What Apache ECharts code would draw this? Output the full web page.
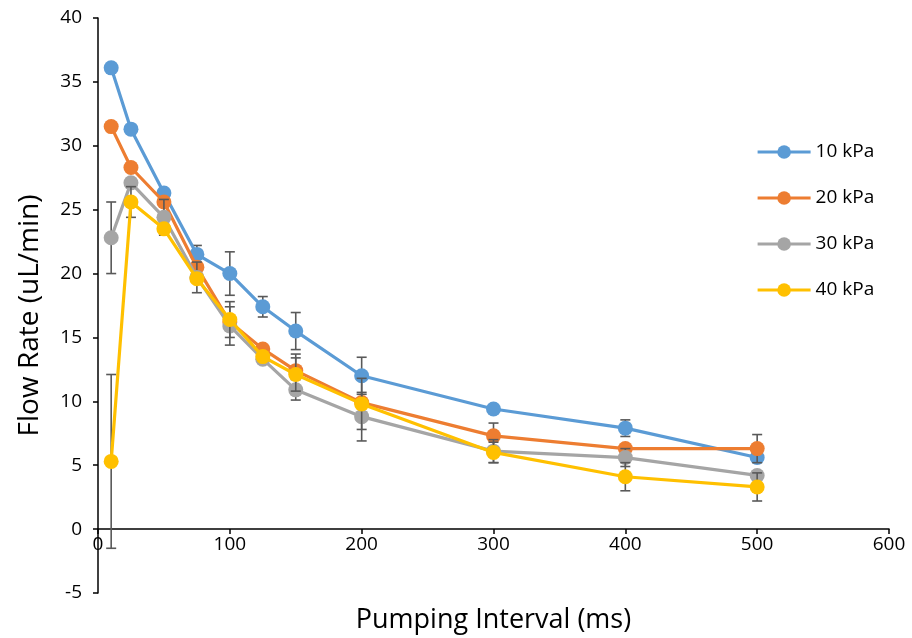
<!DOCTYPE html>
<html>
<head>
<meta charset="utf-8">
<script src="https://cdn.jsdelivr.net/npm/echarts@6/dist/echarts.min.js"></script>
<style>html,body{margin:0;padding:0;background:#fff}#c{width:912px;height:638px}</style>
</head>
<body>
<div id="c"></div>
<script>
const intervals = [10, 25, 50, 75, 100, 125, 150, 200, 300, 400, 500];
const seriesNames = ['10 kPa', '20 kPa', '30 kPa', '40 kPa'];
const flow10 = [36.1, 31.3, 26.3, 21.5, 20.0, 17.4, 15.5, 12.0, 9.4, 7.9, 5.6];
const flow20 = [31.5, 28.3, 25.6, 20.5, 16.2, 14.1, 12.4, 9.9, 7.3, 6.3, 6.3];
const flow30 = [22.8, 27.1, 24.4, 19.7, 15.9, 13.3, 10.9, 8.8, 6.1, 5.6, 4.2];
const flow40 = [5.3, 25.6, 23.5, 19.6, 16.4, 13.5, 12.1, 9.8, 6.0, 4.1, 3.3];
const err10 = [0, 0, 0, 0.7, 1.7, 0.8, 1.45, 1.45, 0, 0.65, 0];
const err20 = [0, 0, 0, 0, 0, 0, 1.3, 0, 1.0, 0, 1.1];
const err30 = [2.8, 0, 1.4, 1.2, 1.5, 0, 0.8, 1.9, 0.9, 0.7, 0];
const err40 = [6.8, 1.2, 0, 0, 1.4, 0, 1.3, 2.0, 0.8, 1.1, 1.1];
const xTicks = [0, 100, 200, 300, 400, 500, 600];
const yTicks = [-5, 0, 5, 10, 15, 20, 25, 30, 35, 40];

const colors = ['#5B9BD5', '#ED7D31', '#A5A5A5', '#FFC000'];
const values = [flow10, flow20, flow30, flow40];
const errs = [err10, err20, err30, err40];
const FONT = 'Open Sans';

const series = [];
values.forEach((vals, i) => {
  const errData = [];
  intervals.forEach((x, k) => {
    if (errs[i][k] > 0) errData.push([x, vals[k] - errs[i][k], vals[k] + errs[i][k]]);
  });
  series.push({
    type: 'custom',
    name: seriesNames[i] + ' err',
    z: 2 + i * 2,
    silent: true,
    renderItem: function (params, api) {
      const x = api.value(0);
      const lo = api.coord([x, api.value(1)]);
      const hi = api.coord([x, api.value(2)]);
      const w = 5;
      const st = { stroke: '#595959', lineWidth: 1.6 };
      return {
        type: 'group',
        children: [
          { type: 'line', shape: { x1: lo[0], y1: lo[1], x2: hi[0], y2: hi[1] }, style: st },
          { type: 'line', shape: { x1: lo[0] - w, y1: lo[1], x2: lo[0] + w, y2: lo[1] }, style: st },
          { type: 'line', shape: { x1: hi[0] - w, y1: hi[1], x2: hi[0] + w, y2: hi[1] }, style: st }
        ]
      };
    },
    encode: { x: 0, y: [1, 2] },
    data: errData
  });
  series.push({
    type: 'line',
    name: seriesNames[i],
    z: 3 + i * 2,
    data: intervals.map((x, k) => [x, vals[k]]),
    symbol: 'circle',
    symbolSize: 15,
    lineStyle: { width: 3.2, color: colors[i] },
    itemStyle: { color: colors[i] },
    emphasis: { disabled: true },
    animation: false
  });
});

const chart = echarts.init(document.getElementById('c'));
chart.setOption({
  animation: false,
  backgroundColor: '#fff',
  grid: { left: 98, right: 23, top: 18, bottom: 45, containLabel: false, outerBoundsMode: 'none' },
  legend: {
    data: seriesNames,
    orient: 'vertical',
    left: 751,
    top: 136,
    itemWidth: 53,
    itemHeight: 17,
    itemGap: 24,
    lineStyle: { width: 3.2 },
    textStyle: { fontFamily: FONT, fontSize: 19, color: '#000', lineHeight: 22 }
  },
  xAxis: {
    type: 'value',
    min: xTicks[0],
    max: xTicks[xTicks.length - 1],
    interval: 100,
    offset: -64,
    name: 'Pumping Interval (ms)',
    nameLocation: 'middle',
    nameGap: 78,
    nameTextStyle: { fontFamily: FONT, fontSize: 27, color: '#000' },
    axisLine: { onZero: false, lineStyle: { color: '#000', width: 1.5 } },
    axisTick: { show: true, length: 5, lineStyle: { color: '#000', width: 1.5 } },
    axisLabel: { fontFamily: FONT, fontSize: 19, color: '#000', margin: 6 },
    splitLine: { show: false }
  },
  yAxis: {
    type: 'value',
    min: yTicks[0],
    max: yTicks[yTicks.length - 1],
    interval: 5,
    name: 'Flow Rate (uL/min)',
    nameLocation: 'middle',
    nameGap: 54,
    nameTextStyle: { fontFamily: FONT, fontSize: 28, color: '#000', padding: [0, 20, 0, 0] },
    axisLine: { show: true, onZero: false, lineStyle: { color: '#000', width: 1.5 } },
    axisTick: { show: true, length: 5, lineStyle: { color: '#000', width: 1.5 } },
    axisLabel: { fontFamily: FONT, fontSize: 19, color: '#000', margin: 16 },
    splitLine: { show: false }
  },
  series: series
});
</script>
</body>
</html>
